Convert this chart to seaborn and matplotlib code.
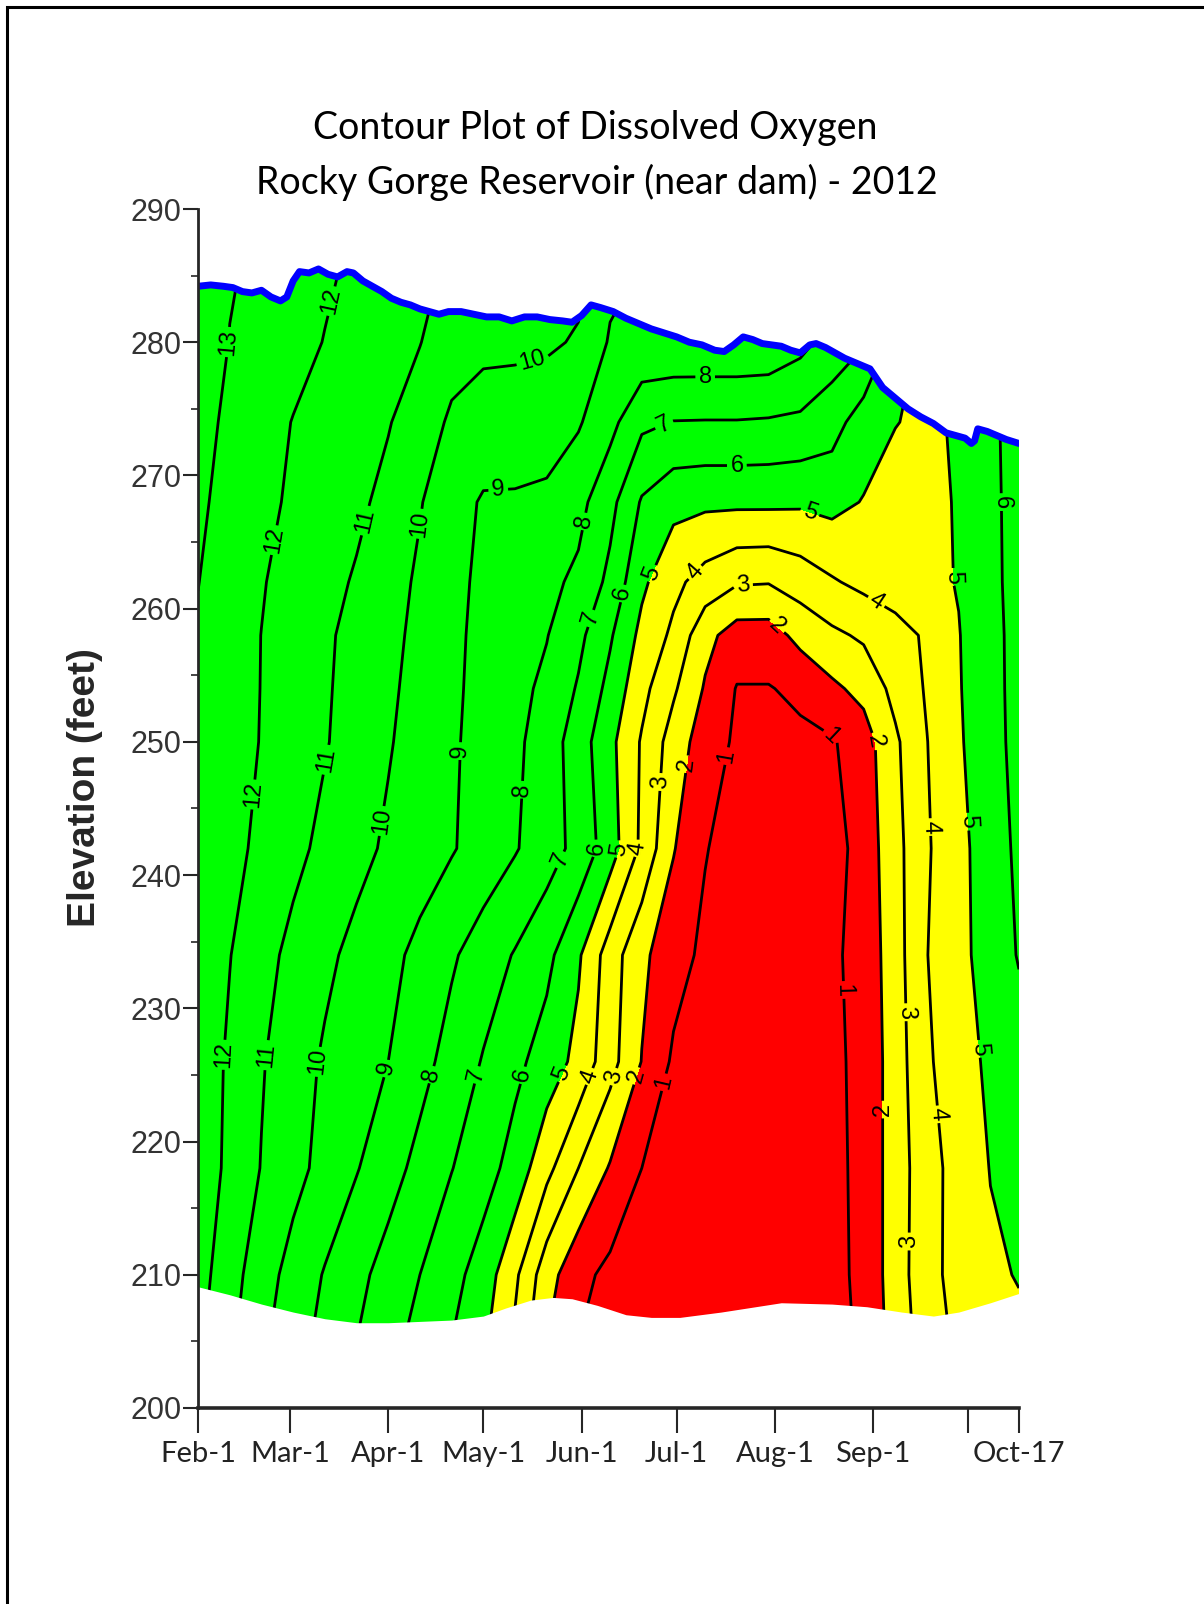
import numpy as np
import pandas as pd
import matplotlib
matplotlib.use("Agg")
import matplotlib.pyplot as plt
import matplotlib.dates as mdates
from matplotlib.patches import Rectangle
from matplotlib.ticker import MultipleLocator
import seaborn as sns

sns.set_style("ticks")
plt.rcParams["font.family"] = ["Lato", "DejaVu Sans"]

# %% Data (days after Feb-1 2012, elevation in feet, DO in mg/L)
start = pd.Timestamp("2012-02-01")

grid_days = [0, 10, 20, 30, 40, 50, 60, 70, 80, 90, 100, 110, 120, 130,
             140, 150, 160, 170, 180, 190, 200, 210, 220, 230, 240, 250, 259]
grid_elev = [205, 210, 218, 226, 234, 242, 250, 254, 258, 262, 268, 274, 280, 286]

do_205 = [12.2, 11.2, 10.2, 9.4, 8.7, 8.0, 7.3, 6.7, 6.0, 5.2, 3.8, 2.0, 1.0, 0.6,
          0.5, 0.5, 0.5, 0.5, 0.5, 0.5, 0.6, 1.2, 2.4, 3.5, 4.2, 4.7, 4.8]
do_210 = [12.4, 11.4, 10.45, 9.64, 8.93, 8.27, 7.63, 7.0, 6.33, 5.55, 4.2, 2.42, 1.29, 0.75,
          0.5, 0.45, 0.45, 0.45, 0.45, 0.5, 0.7, 1.25, 2.5, 3.67, 4.35, 4.85, 5.05]
do_218 = [12.6, 11.78, 10.96, 10.32, 9.69, 9.06, 8.39, 7.71, 7.03, 6.42, 5.62, 4.29, 3.0, 1.91,
          1.0, 0.7, 0.5, 0.45, 0.45, 0.5, 0.75, 1.25, 2.5, 3.6, 4.4, 5.03, 5.35]
do_226 = [12.6, 11.85, 11.08, 10.44, 9.87, 9.43, 9.0, 8.33, 7.64, 6.93, 6.25, 5.56, 4.71, 3.38,
          1.97, 0.85, 0.5, 0.45, 0.45, 0.5, 0.8, 1.25, 2.5, 3.86, 4.56, 5.2, 5.55]
do_234 = [12.72, 12.03, 11.34, 10.74, 10.21, 9.73, 9.27, 8.75, 8.13, 7.53, 6.93, 6.27, 5.14, 3.5,
          2.22, 1.38, 0.8, 0.5, 0.45, 0.5, 0.85, 1.3, 2.59, 3.98, 4.74, 5.4, 6.07]
do_242 = [12.81, 12.3, 11.78, 11.26, 10.76, 10.29, 9.85, 9.46, 9.08, 8.59, 8.08, 7.45, 6.69, 5.48,
          3.8, 2.06, 1.05, 0.6, 0.4, 0.4, 0.6, 1.4, 2.67, 3.89, 4.73, 5.5, 6.2]
do_250 = [12.86, 12.41, 11.96, 11.52, 11.07, 10.58, 10.08, 9.6, 9.13, 8.67, 8.21, 7.52, 6.5, 5.26,
          3.9, 2.55, 1.49, 0.85, 0.7, 0.8, 0.9, 1.52, 2.83, 3.98, 4.88, 5.65, 6.3]
do_254 = [12.88, 12.42, 11.98, 11.55, 11.11, 10.65, 10.17, 9.68, 9.17, 8.72, 8.3, 7.78, 6.9, 5.7,
          4.3, 3.15, 1.9, 0.95, 0.95, 1.2, 1.8, 2.3, 3.3, 4.1, 4.93, 5.7, 6.3]
do_258 = [12.9, 12.43, 11.99, 11.57, 11.15, 10.71, 10.26, 9.76, 9.2, 8.76, 8.4, 8.04, 7.25, 6.12,
          4.73, 3.8, 2.3, 1.55, 1.55, 2.3, 2.8, 3.15, 3.6, 4.15, 4.96, 5.72, 6.3]
do_262 = [13.02, 12.5, 12.06, 11.68, 11.3, 10.9, 10.38, 9.85, 9.24, 8.82, 8.53, 8.24, 7.8, 6.75,
          5.2, 4.25, 3.6, 3.1, 3.05, 3.45, 3.9, 4.25, 4.55, 4.75, 5.05, 5.75, 6.35]
do_268 = [13.15, 12.72, 12.22, 11.87, 11.53, 11.2, 10.73, 10.06, 9.4, 8.9, 8.9, 8.85, 8.3, 7.3,
          5.9, 5.3, 5.2, 5.2, 5.2, 5.15, 5.3, 4.95, 4.4, 4.5, 5.15, 5.75, 6.4]
do_274 = [13.4, 12.77, 12.36, 11.97, 11.67, 11.36, 11.06, 10.5, 9.85, 9.6, 9.5, 9.35, 9.1, 8.3,
          7.2, 6.97, 6.95, 6.95, 6.9, 6.8, 6.4, 5.5, 5.05, 4.7, 5.2, 5.8, 6.4]
do_280 = [13.7, 12.97, 12.63, 12.3, 11.97, 11.6, 11.35, 11.03, 10.4, 10.2, 10.2, 10.15, 9.9, 8.9,
          8.8, 8.8, 8.8, 8.8, 8.75, 8.3, 7.6, 7.1, 5.6, 4.7, 5.3, 5.8, 6.4]
do_286 = [13.9, 13.1, 12.8, 12.5, 12.15, 11.85, 11.5, 11.2, 10.9, 10.7, 10.6, 10.5, 10.3, 9.3,
          9.0, 9.0, 9.0, 9.0, 8.9, 8.5, 7.8, 7.3, 5.8, 4.8, 5.4, 5.85, 6.5]

# water surface (blue line)
surf_days = [0, 4, 8, 11, 14, 17, 20, 23, 26, 28, 30, 32, 35, 38, 41, 44, 47, 49, 52, 55,
             58, 61, 64, 67, 70, 73, 76, 79, 83, 87, 91, 95, 99, 103, 107, 111, 115, 118, 121, 124,
             127, 131, 135, 139, 143, 147, 151, 155, 159, 163, 166, 169, 172, 175, 178, 181, 184, 187, 190, 193,
             195, 198, 201, 204, 208, 212, 216, 220, 224, 228, 232, 236, 239, 242, 244, 245, 246, 249, 252, 255,
             259]
surf_elev = [284.2, 284.3, 284.2, 284.1, 283.8, 283.7, 283.9, 283.4, 283.1, 283.4, 284.6, 285.3, 285.2, 285.5, 285.1, 284.9, 285.3, 285.2, 284.6, 284.2,
             283.8, 283.3, 283.0, 282.8, 282.5, 282.3, 282.1, 282.3, 282.3, 282.1, 281.9, 281.9, 281.6, 281.9, 281.9, 281.7, 281.6, 281.5, 282.0, 282.8,
             282.6, 282.3, 281.8, 281.4, 281.0, 280.7, 280.4, 280.0, 279.8, 279.4, 279.3, 279.8, 280.4, 280.2, 279.9, 279.8, 279.7, 279.4, 279.2, 279.8,
             279.9, 279.6, 279.2, 278.8, 278.4, 278.0, 276.6, 275.8, 275.0, 274.4, 273.9, 273.2, 273.0, 272.8, 272.4, 272.6, 273.5, 273.3, 273.0, 272.7,
             272.4]

# reservoir bottom of the sampled profile
bot_days = [0, 10, 20, 30, 40, 50, 60, 70, 80, 90, 97, 105, 112, 118, 126, 135, 143, 152, 165,
            184, 200, 211, 222, 232, 240, 250, 259]
bot_elev = [209.1, 208.5, 207.8, 207.2, 206.7, 206.4, 206.4, 206.5, 206.6, 206.9, 207.5, 208.1, 208.3,
            208.2, 207.7, 207.0, 206.8, 206.8, 207.2, 207.9, 207.8, 207.6, 207.2, 206.9, 207.2, 207.9, 208.6]

tick_days = [0, 29, 60, 90, 121, 151, 182, 213, 243, 259]
tick_labels = ["Feb-1", "Mar-1", "Apr-1", "May-1", "Jun-1", "Jul-1", "Aug-1", "Sep-1", "", "Oct-17"]

# where the contour labels sit
label_days = [10.5, 44, 28, 55, 73, 95, 123, 106, 160, 145, 170, 194, 125, 137, 145, 158, 172, 181, 213, 241, 254,
              20, 42, 60, 84, 103, 116, 126, 132, 139, 145, 155, 165, 200, 213, 230, 242,
              9, 21, 37, 59, 74, 88, 102, 116, 122, 129, 137, 146,
              207, 222, 231, 216, 222, 249]
label_elev = [280, 283, 265, 266.5, 266.3, 268, 266.5, 278.3, 277.8, 274.7, 270.7, 267.8, 259.2, 261, 262.5, 262.5, 261.5, 258.3, 260.2, 262.4, 268,
              246, 248.6, 244, 249.3, 246.4, 241, 242, 242, 242, 247, 248.3, 249, 250.5, 250, 243.6, 244,
              226.5, 226.5, 226, 225.5, 225, 225, 225, 225, 225, 225, 225, 224.5,
              231.4, 229.7, 222, 222.4, 212.5, 227]


def to_x(days):
    return mdates.date2num(start + pd.to_timedelta(np.asarray(days, dtype=float), unit="D"))


do = np.array([do_205, do_210, do_218, do_226, do_234, do_242, do_250, do_254,
               do_258, do_262, do_268, do_274, do_280, do_286])
X, Y = np.meshgrid(to_x(grid_days), grid_elev)

# %% Plot
fig = plt.figure(figsize=(12.04, 16.04), dpi=100)
ax = fig.add_axes([0.1645, 0.1222, 0.6818, 0.7475])

ax.contourf(X, Y, do, levels=[0, 2, 5, 20], colors=["#ff0000", "#ffff00", "#00ff00"], zorder=1)
cs = ax.contour(X, Y, do, levels=np.arange(1, 14), colors="black", linewidths=2.0, zorder=1.5)
ax.clabel(cs, fmt="%d", fontsize=17, inline=True, inline_spacing=3,
          manual=list(zip(to_x(label_days), label_elev)))
for t in cs.labelTexts:
    t.set_fontfamily(["Liberation Sans", "DejaVu Sans"])
    t.set_fontsize(17)

# blank out air above the surface and sediment below the bottom
ax.fill_between(to_x(surf_days), surf_elev, 291, color="white", lw=0, zorder=2)
ax.fill_between(to_x(bot_days), 199, bot_elev, color="white", lw=0, zorder=2)
ax.plot(to_x(surf_days), surf_elev, color="#0000ff", lw=5, zorder=2.2, solid_joinstyle="round")

ax.set_xlim(to_x(0), to_x(259))
ax.set_ylim(200, 290)
ax.set_xticks(to_x(tick_days))
ax.set_xticklabels(tick_labels)
ax.yaxis.set_major_locator(MultipleLocator(10))
ax.yaxis.set_minor_locator(MultipleLocator(5))

sns.despine(ax=ax)
ax.spines["left"].set_linewidth(2.0)
ax.spines["bottom"].set_linewidth(2.6)
ax.tick_params(axis="x", length=18, width=1.5, pad=6, labelsize=21, labelcolor="#222222")
ax.tick_params(axis="y", which="major", length=11, width=1.5, pad=1, labelsize=22, labelcolor="#333333")
ax.tick_params(axis="y", which="minor", length=5, width=1.2)
for lab in ax.get_yticklabels():
    lab.set_fontfamily(["Liberation Sans", "DejaVu Sans"])

fig.text(85 / 1204, 1 - 788 / 1604, "Elevation (feet)", rotation=90, ha="center", va="center",
         fontsize=28, fontweight="bold", family=["Liberation Sans", "DejaVu Sans"])
fig.text(595 / 1204, 1 - 128 / 1604, "Contour Plot of Dissolved Oxygen", ha="center", va="center",
         fontsize=27, color="black")
fig.text(597 / 1204, 1 - 182 / 1604, "Rocky Gorge Reservoir (near dam) - 2012", ha="center", va="center",
         fontsize=27, color="black")

# page frame (only left and top edges fall inside the image)
fig.add_artist(Rectangle((7 / 1204, -0.5), 1.5, 0.5 + 1 - 7 / 1604, transform=fig.transFigure,
                         fill=False, lw=2.2, edgecolor="black"))

fig.savefig("out.png", dpi=100)
